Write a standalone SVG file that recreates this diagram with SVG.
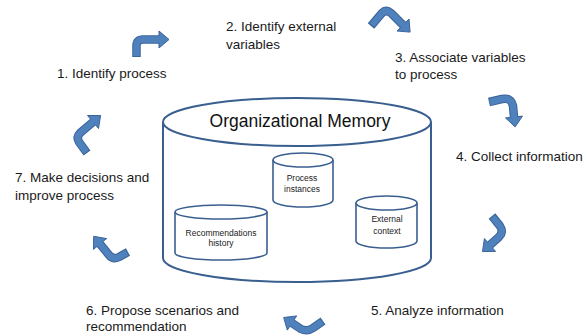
<svg xmlns="http://www.w3.org/2000/svg" width="586" height="335" viewBox="0 0 586 335">
<style>
.lbl{font-family:"Liberation Sans",Arial,sans-serif;font-size:13.5px;fill:#1a1a1a}
.big{font-family:"Liberation Sans",Arial,sans-serif;font-size:17.5px;fill:#111}
.sm{font-family:"Liberation Sans",Arial,sans-serif;font-size:8.5px;fill:#222;text-anchor:middle}
.cyl{fill:#fff;stroke:#3a5f8f;stroke-width:2}
.cyls{fill:#fff;stroke:#3a5f8f;stroke-width:1.6}
.so{fill:none;stroke:#3b6499;stroke-width:8.5;stroke-linejoin:round}
.si{fill:none;stroke:#4f81bd;stroke-width:6.5;stroke-linejoin:round}
.hd{fill:#4f81bd;stroke:#3b6499;stroke-width:1;stroke-linejoin:round}
</style>
<rect width="586" height="335" fill="#fff"/>
<g id="memory">
<path class="cyl" d="M163 122 L163 258 A134 24 0 0 0 431 258 L431 122"/>
<ellipse class="cyl" cx="297" cy="122" rx="134" ry="24"/>
<text class="big" x="300" y="127" text-anchor="middle">Organizational Memory</text>
</g>
<g id="process-instances">
<path class="cyls" d="M273 160 L273 200 A30 7 0 0 0 333 200 L333 160"/>
<ellipse class="cyls" cx="303" cy="160" rx="30" ry="7"/>
<text class="sm" x="302" y="181">Process</text>
<text class="sm" x="302" y="192">instances</text>
</g>
<g id="external-context">
<path class="cyls" d="M356 203 L356 241 A30.5 7 0 0 0 417 241 L417 203"/>
<ellipse class="cyls" cx="386.5" cy="203" rx="30.5" ry="7"/>
<text class="sm" x="387" y="222">External</text>
<text class="sm" x="387" y="234">context</text>
</g>
<g id="recommendations-history">
<path class="cyls" d="M175 212 L175 253 A46 7 0 0 0 267 253 L267 212"/>
<ellipse class="cyls" cx="221" cy="212" rx="46" ry="7"/>
<text class="sm" x="221" y="236">Recommendations</text>
<text class="sm" x="221" y="246">history</text>
</g>
<g id="step1"><text class="lbl" x="57" y="78">1. Identify process</text></g>
<g id="step2"><text class="lbl" x="226" y="31">2. Identify external</text><text class="lbl" x="226" y="49">variables</text></g>
<g id="step3"><text class="lbl" x="395" y="62">3. Associate variables</text><text class="lbl" x="395" y="79">to process</text></g>
<g id="step4"><text class="lbl" x="456" y="161">4. Collect information</text></g>
<g id="step5"><text class="lbl" x="371" y="315">5. Analyze information</text></g>
<g id="step6"><text class="lbl" x="86" y="315">6. Propose scenarios and</text><text class="lbl" x="86" y="331">recommendation</text></g>
<g id="step7"><text class="lbl" x="15" y="182">7. Make decisions and</text><text class="lbl" x="15" y="200">improve process</text></g>
<g id="connectors">
<path class="so" d="M136.5 57 L136.5 46 Q136.5 39.5 143 39.5 L159 39.5"/>
<polygon class="hd" points="159,31 169,39.5 159,48"/>
<path class="si" d="M136.5 56 L136.5 46 Q136.5 39.5 143 39.5 L161 39.5"/>

<path class="so" d="M371 26 L382 13 Q386 9 391 13 L403 25"/>
<polygon class="hd" points="397,31 410.1,32.1 409,19"/>
<path class="si" d="M372 25 L382 13 Q386 9 391 13 L404.5 26.5"/>

<path class="so" d="M489 102 L502 99 Q511 97 513 106 L514 117"/>
<polygon class="hd" points="505.5,117.9 515.1,126.9 522.5,116.1"/>
<path class="si" d="M490 102 L502 99 Q511 97 513 106 L514.2 119"/>

<path class="so" d="M492 216 L500 226 Q504 232 499 237 L490 245"/>
<polygon class="hd" points="495.6,251.4 482.5,251.6 484.4,238.6"/>
<path class="si" d="M492.6 217 L500 226 Q504 232 499 237 L488.5 246.3"/>

<path class="so" d="M323 321 L313 328 Q307 332 301 329 L292 323"/>
<polygon class="hd" points="296.7,315.9 283.7,317.5 287.3,330.1"/>
<path class="si" d="M322 321.7 L313 328 Q307 332 301 329 L290.5 322"/>

<path class="so" d="M128 252 L119 257 Q113 260 109 255 L100 244"/>
<polygon class="hd" points="106.6,238.6 93.7,236.3 93.4,249.4"/>
<path class="si" d="M127 252.6 L119 257 Q113 260 109 255 L99 242.8"/>

<path class="so" d="M87 153 L79 142 Q76 137 80 133 L93 122"/>
<polygon class="hd" points="98.5,128.5 100.6,115.5 87.5,115.5"/>
<path class="si" d="M86.3 152 L79 142 Q76 137 80 133 L94.2 121"/>
</g>
</svg>
